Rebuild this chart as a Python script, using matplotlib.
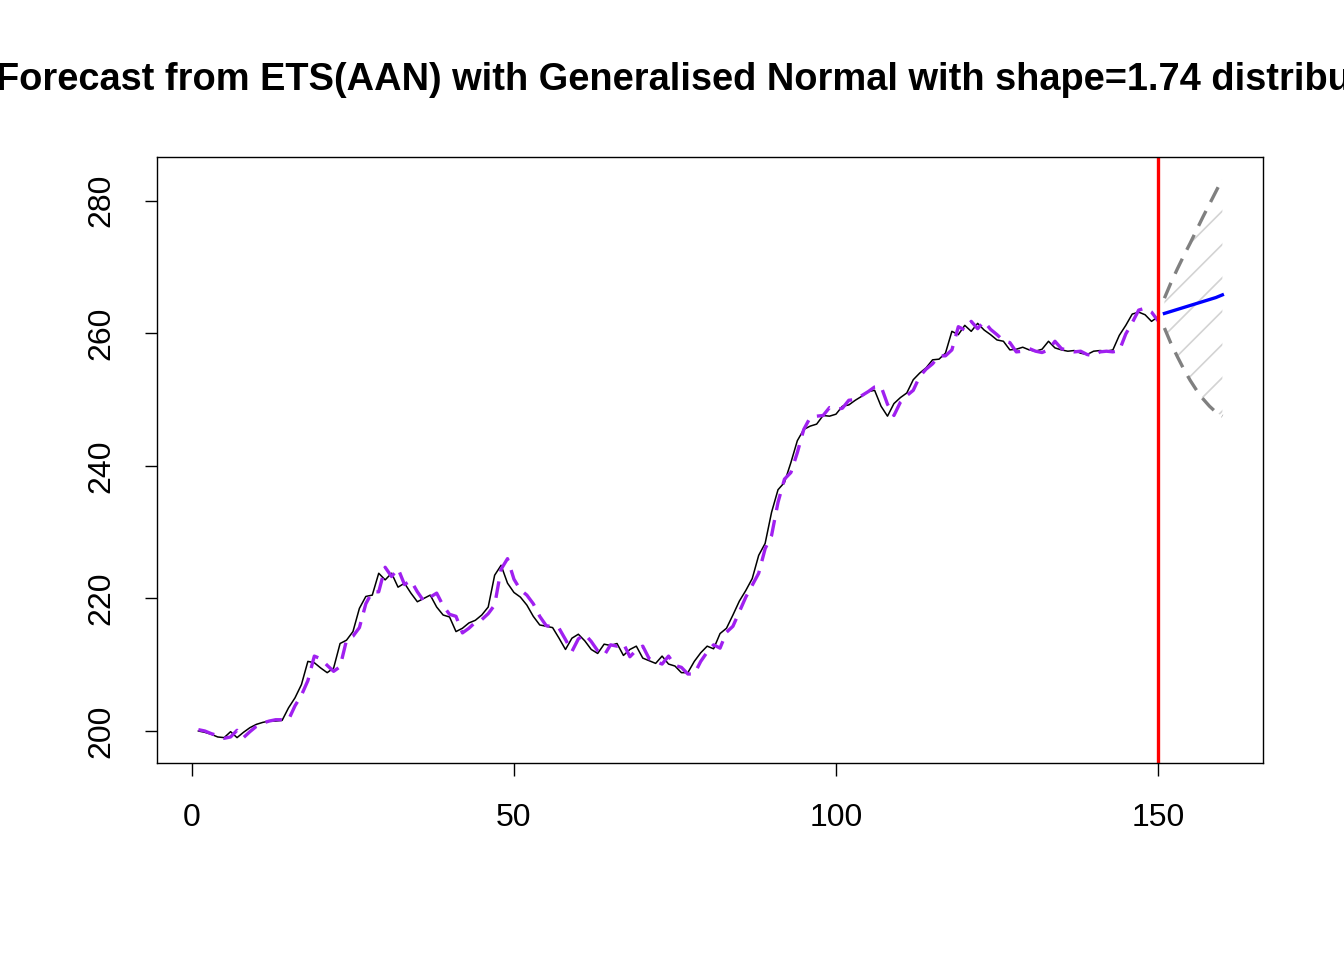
import matplotlib
matplotlib.use("Agg")
import matplotlib.pyplot as plt
import numpy as np

# -------------------------------
# Data
# -------------------------------
actual = [200.0, 199.8, 199.5, 199.1, 199.0, 199.9, 199.0, 199.8, 200.5, 201.0,
          201.3, 201.5, 201.5, 201.6, 203.5, 205.0, 207.0, 210.5, 210.3, 209.5,
          208.8, 209.5, 213.2, 213.7, 215.0, 218.5, 220.3, 220.5, 223.8, 222.8,
          223.8, 221.7, 222.3, 220.8, 219.5, 220.0, 220.5, 218.7, 217.5, 217.2,
          215.0, 215.5, 216.3, 216.7, 217.5, 218.7, 223.5, 225.0, 222.3, 220.9,
          220.2, 219.0, 217.3, 216.0, 215.8, 215.6, 214.0, 212.3, 214.0, 214.6,
          213.6, 212.3, 211.7, 213.1, 212.9, 213.2, 211.4, 212.3, 212.8, 211.0,
          210.6, 210.2, 211.3, 210.1, 209.8, 208.8, 208.8, 210.5, 211.8, 212.8,
          212.4, 214.7, 215.5, 217.5, 219.6, 221.2, 223.0, 226.5, 228.3, 233.0,
          236.4, 237.5, 240.5, 243.8, 245.5, 246.0, 246.3, 247.6, 247.5, 247.8,
          249.0, 249.2, 249.9, 250.5, 251.2, 251.4, 249.0, 247.5, 249.4, 250.3,
          251.0, 253.0, 254.0, 254.8, 256.0, 256.1, 257.0, 260.3, 259.8, 261.2,
          260.3, 261.5, 260.5, 259.8, 259.0, 258.8, 257.5, 257.6, 257.9, 257.5,
          257.3, 257.6, 258.8, 257.8, 257.5, 257.3, 257.4, 257.0, 256.8, 257.3,
          257.4, 257.3, 257.5, 259.7, 261.2, 262.9, 263.2, 262.8, 261.8, 262.5]

fitted = [200.2, 200.0, 199.6, 199.3, 198.9, 199.1, 200.1, 199.0, 199.9, 200.7,
          201.2, 201.5, 201.7, 201.7, 201.7, 203.8, 205.4, 207.6, 211.3, 210.9,
          209.9, 209.0, 209.7, 213.7, 214.3, 215.6, 219.2, 221.0, 221.0, 224.7,
          223.3, 224.5, 222.1, 222.7, 221.0, 219.6, 220.2, 220.8, 218.9, 217.6,
          217.3, 214.8, 215.5, 216.4, 216.8, 217.7, 219.0, 224.4, 226.0, 222.9,
          221.3, 220.5, 219.2, 217.3, 215.9, 215.7, 215.5, 213.8, 212.0, 213.9,
          214.6, 213.5, 212.1, 211.4, 213.0, 212.8, 213.2, 211.2, 212.2, 212.8,
          210.9, 210.5, 210.1, 211.3, 209.9, 209.6, 208.6, 208.6, 210.5, 211.9,
          213.0, 212.5, 214.9, 215.8, 218.0, 220.2, 222.0, 223.8, 227.5, 229.5,
          234.5, 238.0, 239.0, 242.0, 245.5, 247.3, 247.5, 247.6, 248.8, 248.5,
          248.7, 249.9, 250.0, 250.6, 251.2, 251.9, 252.0, 249.3, 247.6, 249.6,
          250.6, 251.4, 253.5, 254.6, 255.4, 256.6, 256.6, 257.5, 261.0, 260.5,
          261.8, 260.7, 261.8, 260.6, 259.8, 258.9, 258.6, 257.2, 257.3, 257.7,
          257.3, 257.1, 257.5, 258.8, 257.7, 257.4, 257.2, 257.3, 256.8, 256.6,
          257.2, 257.3, 257.2, 257.4, 259.9, 261.6, 263.5, 263.8, 263.2, 261.9]

fc_x = [151, 152, 153, 154, 155, 156, 157, 158, 159, 160]
fc_mean = [263.0, 263.3, 263.6, 263.9, 264.2, 264.5, 264.8, 265.1, 265.4, 265.8]
fc_upper = [265.3, 267.6, 269.7, 271.7, 273.6, 275.6, 277.6, 279.5, 281.4, 283.3]
fc_lower = [260.8, 258.5, 256.5, 254.6, 252.9, 251.4, 250.1, 249.0, 248.1, 247.5]

TITLE = "Forecast from ETS(AAN) with Generalised Normal with shape=1.74 distribution"


def main():
    plt.rcParams["font.family"] = "Liberation Sans"
    t = np.arange(1, len(actual) + 1)

    fig = plt.figure(figsize=(13.44, 9.6), dpi=100)
    ax = fig.add_axes([0.1168, 0.2052, 0.8229, 0.63125])

    # prediction interval, hatched like R polygon(density=...)
    plt.rcParams["hatch.color"] = "#d3d3d3"
    plt.rcParams["hatch.linewidth"] = 1.2
    ax.fill_between(fc_x, fc_lower, fc_upper, facecolor="none",
                    edgecolor="#d3d3d3", hatch="/", linewidth=0)

    dash = (0, (5, 3))
    ax.plot(t, actual, color="black", lw=1.1)
    ax.plot(t, fitted, color="#A020F0", lw=2.4, ls=dash)
    ax.plot(fc_x, fc_upper, color="#808080", lw=2.4, ls=dash)
    ax.plot(fc_x, fc_lower, color="#808080", lw=2.4, ls=dash)
    ax.plot(fc_x, fc_mean, color="blue", lw=2.4)
    ax.axvline(150, color="red", lw=2.4)

    ax.set_xlim(-5.43, 166.3)
    ax.set_ylim(195.17, 286.6)
    ax.set_xticks([0, 50, 100, 150])
    ax.set_yticks([200, 220, 240, 260, 280])
    ax.tick_params(labelsize=23, length=9, width=1)
    ax.tick_params(axis="x", pad=20)
    ax.tick_params(axis="y", pad=20)
    for lab in ax.get_yticklabels():
        lab.set_rotation(90)
        lab.set_va("center")
    for s in ax.spines.values():
        s.set_linewidth(1)

    # title is wider than the figure in the reference, so both ends are cut
    fig.text(708 / 1344, 0.917, TITLE, ha="center", va="center",
             fontsize=27.4, fontweight="bold")

    fig.savefig("out.png", dpi=100)


if __name__ == "__main__":
    main()
